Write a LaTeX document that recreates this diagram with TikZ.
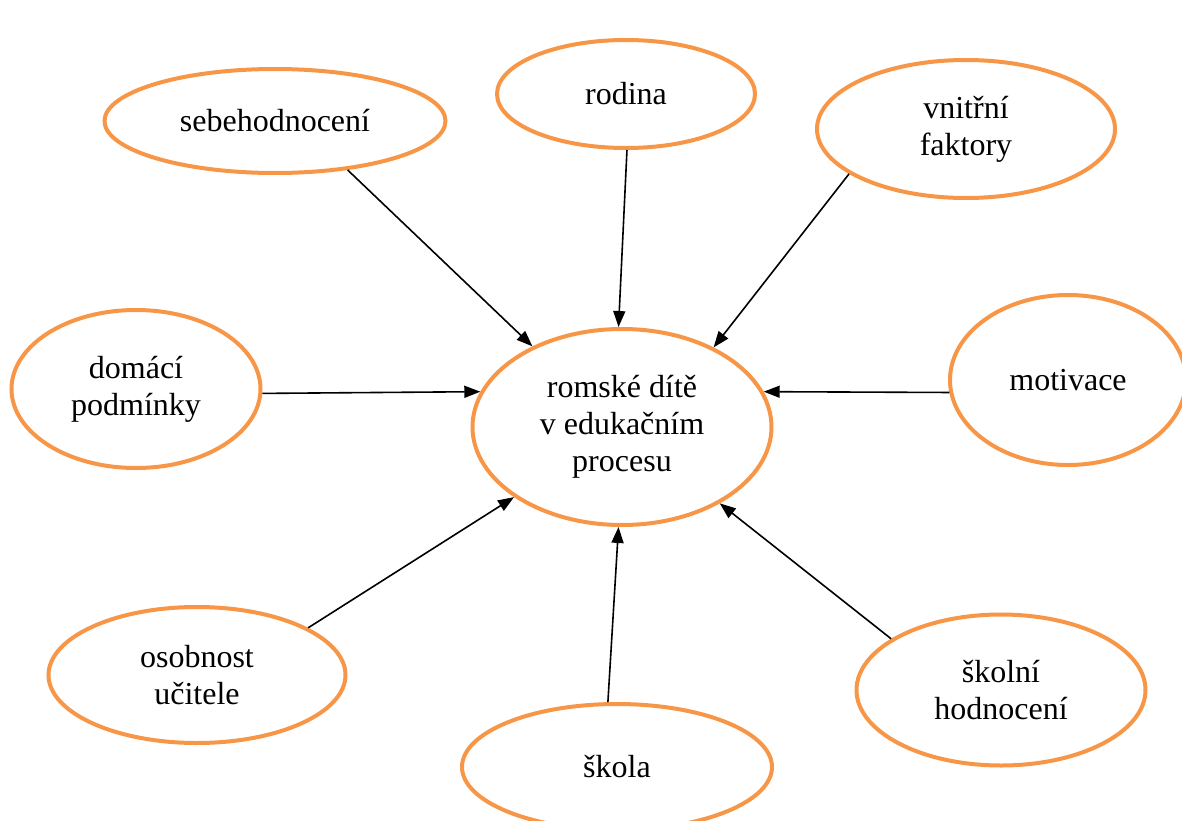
\documentclass[tikz,border=0pt]{standalone}
\usepackage{fontspec}
\setmainfont{Liberation Serif}
\usetikzlibrary{arrows.meta}
\usetikzlibrary{shapes.geometric}
\definecolor{ovalorange}{RGB}{247,150,70}

\begin{document}
\begin{tikzpicture}[x=0.75pt,y=-0.75pt,
  every node/.style={ellipse,draw=ovalorange,line width=3pt,inner sep=0pt,align=center,
    font=\fontsize{24}{27.6}\selectfont},
  oval/.style 2 args={minimum width=#1*0.75pt,minimum height=#2*0.75pt},
  >={Triangle[length=12pt,width=9pt]}]
\useasboundingbox (0,0) rectangle (1182,821);
\node[oval={299}{196}] (dite) at (622,427) {romské dítě\\v edukačním\\procesu};
\node[oval={341}{104}] (sebe) at (275,121) {sebehodnocení};
\node[oval={258}{108}] (rodina) at (626,94) {rodina};
\node[oval={298}{138}] (vnitrni) at (966,129) {vnitřní\\faktory};
\node[oval={249}{158}] (domaci) at (136,389) {domácí\\podmínky};
\node[oval={236}{170}] (motivace) at (1068,380) {motivace};
\node[oval={297}{136}] (ucitel) at (197,675) {osobnost\\učitele};
\node[oval={310}{126}] (skola) at (617,767) {škola};
\node[oval={289}{151}] (hodnoceni) at (1001,690) {školní\\hodnocení};

\draw[->, line width=1.2pt] (sebe.-34) to (dite.138);
\draw[->, line width=1.2pt] (rodina.-89) to (dite.92);
\draw[->, line width=1.2pt] (vnitrni.-159) to (dite.41);
\draw[->, line width=1.2pt] (domaci.-2) to (dite.166);
\draw[->, line width=1.2pt] (motivace.-174) to (dite.14);
\draw[->, line width=1.2pt] (ucitel.23) to (dite.-147);
\draw[->, line width=1.2pt] (skola.98) to (dite.-92);
\draw[->, line width=1.2pt] (hodnoceni.155) to (dite.-38);
\end{tikzpicture}
\end{document}
